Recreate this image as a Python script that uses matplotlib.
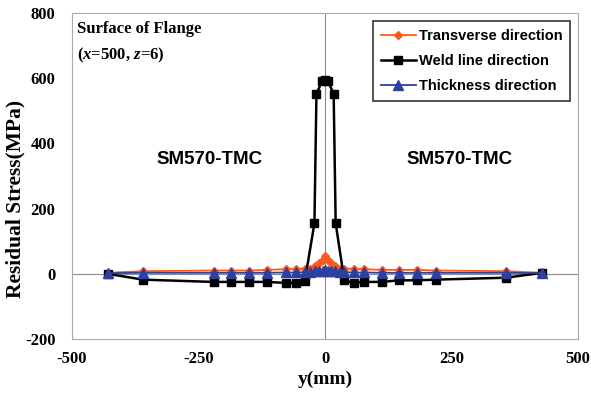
import matplotlib.pyplot as plt

plt.rcParams["axes.unicode_minus"] = False
plt.rcParams["mathtext.fontset"] = "custom"
plt.rcParams["mathtext.rm"] = "Liberation Serif:bold"
plt.rcParams["mathtext.it"] = "Liberation Serif:italic:bold"

# -------------------------------
# Data
# -------------------------------
weld_x = [-430, -360, -220, -185, -150, -115, -77, -58, -40, -21, -17, -6, 0,
          6, 17, 21, 38, 57, 77, 113, 146, 182, 219, 358, 429]
weld_y = [0, -18, -25, -25, -25, -25, -28, -28, -22, 155, 552, 590, 595,
          590, 552, 155, -20, -28, -25, -25, -20, -20, -18, -12, 3]

side_x = [-430, -360, -220, -185, -150, -115, -77, -58, -40, -30, -20, -12, -5, 0,
          5, 12, 20, 30, 38, 57, 77, 113, 146, 182, 219, 358, 429]
trans_y = [3, 8, 10, 10, 10, 12, 14, 15, 16, 16, 25, 33, 42, 55,
           42, 33, 25, 16, 16, 15, 14, 12, 12, 12, 10, 8, 3]
thick_y = [2, 3, 3, 3, 3, 3, 4, 4, 5, 5, 7, 9, 10, 12,
           10, 9, 7, 5, 5, 4, 4, 3, 3, 3, 3, 3, 2]

xticks = [-500, -250, 0, 250, 500]
yticks = [-200, 0, 200, 400, 600, 800]

ORANGE = "#ff5a1e"
BLUE = "#2e3f9e"
SERIF = "Liberation Serif"
SANS = "Liberation Sans"

# -------------------------------
# Plot
# -------------------------------
fig = plt.figure(figsize=(5.91, 4.05), dpi=100)
ax = fig.add_axes([0.122, 0.163, 0.856, 0.805])

ax.axhline(0, color="#8a8a8a", lw=0.8, zorder=1)
ax.axvline(0, color="#8a8a8a", lw=0.8, zorder=1)

ax.plot(side_x, trans_y, color=ORANGE, lw=1.3, marker="D", ms=4.5,
        label="Transverse direction", zorder=3)
ax.plot(weld_x, weld_y, color="black", lw=1.8, marker="s", ms=6,
        label="Weld line direction", zorder=4)
ax.plot(side_x, thick_y, color=BLUE, lw=1.3, marker="^", ms=6.5,
        label="Thickness direction", zorder=5)

ax.set_xlim(-500, 500)
ax.set_ylim(-200, 800)
ax.set_xticks(xticks)
ax.set_yticks(yticks)
ax.tick_params(length=0)
ax.tick_params(axis="y", pad=12)
ax.tick_params(axis="x", pad=9)
for lab in ax.get_xticklabels() + ax.get_yticklabels():
    lab.set_fontfamily(SERIF)
    lab.set_fontweight("bold")
    lab.set_fontsize(12)

for s in ax.spines.values():
    s.set_color("#b0a8a8")
    s.set_linestyle((0, (2, 1)))
    s.set_linewidth(0.8)

ax.set_xlabel("y(mm)", fontfamily=SERIF, fontweight="bold", fontsize=14, labelpad=2)
ax.set_ylabel("Residual Stress(MPa)", fontfamily=SERIF, fontweight="bold", fontsize=15.5)
ax.yaxis.set_label_coords(-0.111, 0.43)
ax.yaxis.label.set_verticalalignment("center")

ax.text(0.01, 0.975, "Surface of Flange", transform=ax.transAxes, ha="left", va="top",
        fontfamily=SERIF, fontweight="bold", fontsize=12)
ax.text(0.01, 0.9, r"($\it{x}$=500, $\it{z}$=6)", transform=ax.transAxes,
        ha="left", va="top", fontfamily=SERIF, fontweight="bold", fontsize=12)

ax.text(-229, 350, "SM570-TMC", ha="center", va="center", fontfamily=SANS,
        fontweight="bold", fontsize=13.5)
ax.text(265, 350, "SM570-TMC", ha="center", va="center", fontfamily=SANS,
        fontweight="bold", fontsize=13.5)

leg = ax.legend(loc="upper right", bbox_to_anchor=(0.985, 0.975), frameon=True,
                fancybox=False, edgecolor="black", handlelength=2.4,
                handletextpad=0.2, borderpad=0.55, labelspacing=0.75,
                borderaxespad=0.0,
                prop={"family": SANS, "weight": "bold", "size": 10.5})
leg.get_frame().set_linewidth(1.2)

plt.savefig("out.png", dpi=100)
